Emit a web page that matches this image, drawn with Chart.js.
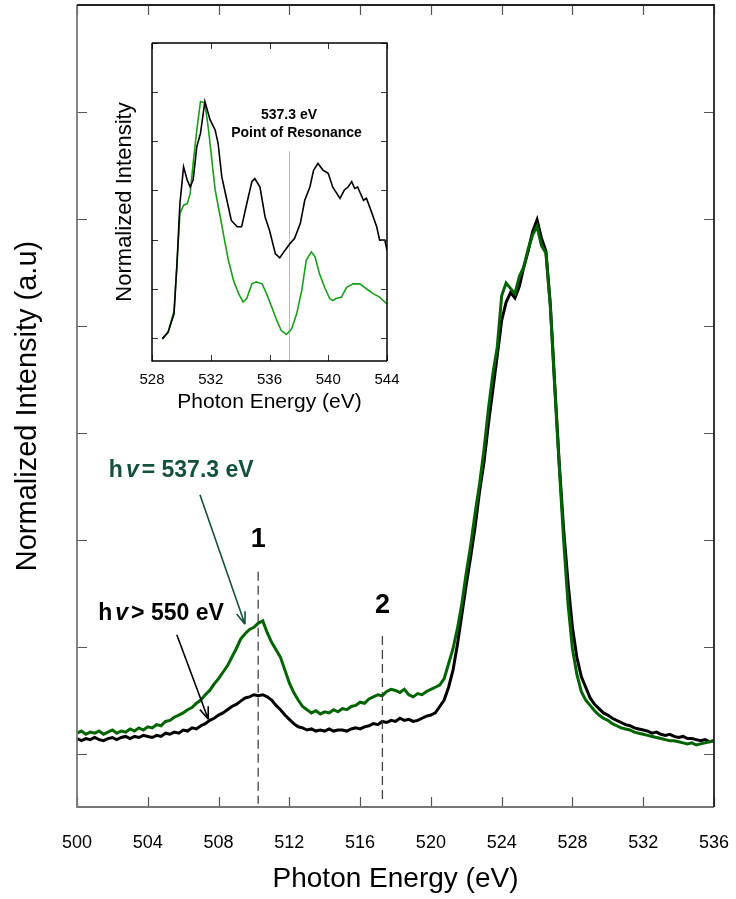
<!DOCTYPE html>
<html>
<head>
<meta charset="utf-8">
<script src="https://cdn.jsdelivr.net/npm/chart.js@4.4.1/dist/chart.umd.min.js"></script>
<style>
  body { margin: 0; background: #fff; }
  #wrap { position: relative; width: 736px; height: 899px; }
  #main { position: absolute; left: 0; top: 0; }
  #inset { position: absolute; left: 100px; top: 30px; }
</style>
</head>
<body>
<div id="wrap">
  <canvas id="main" width="736" height="899"></canvas>
  <canvas id="inset" width="300" height="395"></canvas>
</div>
<script>
const FONT = "'Liberation Sans', Arial, sans-serif";

// main spectra: 500 -> 536 eV, one reading every 0.25 eV
const mainStart = 500;
const mainStep = 0.25;
const blackMain = [
  0.14,0.12,0.14,0.13,0.15,0.13,0.12,0.14,0.15,0.13,
  0.15,0.16,0.14,0.16,0.15,0.17,0.16,0.15,0.17,0.16,
  0.19,0.18,0.20,0.19,0.22,0.21,0.24,0.23,0.26,0.28,
  0.31,0.33,0.36,0.38,0.41,0.44,0.46,0.49,0.52,0.53,
  0.55,0.54,0.55,0.53,0.50,0.45,0.41,0.36,0.32,0.28,
  0.25,0.24,0.22,0.23,0.21,0.22,0.21,0.23,0.21,0.22,
  0.22,0.21,0.23,0.24,0.23,0.25,0.26,0.28,0.27,0.30,
  0.29,0.31,0.30,0.33,0.31,0.32,0.30,0.31,0.33,0.35,
  0.36,0.38,0.44,0.50,0.62,0.78,1.02,1.30,1.58,1.84,
  2.12,2.45,2.72,3.08,3.40,3.72,4.05,4.22,4.31,4.26,
  4.37,4.55,4.70,4.88,4.99,4.82,4.70,4.20,3.45,2.72,
  2.10,1.60,1.18,0.90,0.72,0.62,0.52,0.46,0.42,0.38,
  0.36,0.33,0.31,0.29,0.27,0.26,0.24,0.23,0.22,0.21,
  0.19,0.20,0.18,0.17,0.18,0.16,0.15,0.16,0.14,0.14,
  0.13,0.12,0.13,0.11,0.12
];
const greenMain = [
  0.19,0.21,0.18,0.20,0.19,0.21,0.18,0.20,0.22,0.19,
  0.21,0.20,0.23,0.21,0.24,0.22,0.25,0.24,0.27,0.26,
  0.30,0.31,0.34,0.36,0.38,0.41,0.43,0.47,0.50,0.55,
  0.59,0.65,0.70,0.76,0.82,0.90,0.98,1.07,1.12,1.16,
  1.18,1.22,1.24,1.13,1.04,0.97,0.90,0.78,0.66,0.57,
  0.50,0.44,0.41,0.38,0.40,0.37,0.39,0.38,0.41,0.39,
  0.42,0.41,0.44,0.45,0.48,0.47,0.51,0.53,0.55,0.54,
  0.58,0.60,0.59,0.57,0.60,0.55,0.53,0.56,0.55,0.58,
  0.60,0.62,0.64,0.70,0.84,0.98,1.17,1.40,1.69,1.95,
  2.25,2.52,2.84,3.22,3.55,3.80,4.28,4.40,4.35,4.30,
  4.46,4.55,4.72,4.85,4.93,4.75,4.68,4.18,3.42,2.70,
  2.00,1.40,0.98,0.74,0.58,0.50,0.45,0.40,0.36,0.33,
  0.31,0.28,0.26,0.24,0.23,0.22,0.20,0.19,0.18,0.17,
  0.16,0.15,0.14,0.13,0.12,0.12,0.11,0.10,0.09,0.10,
  0.08,0.09,0.10,0.11,0.12
];
const mainXTicks = [500, 504, 508, 512, 516, 520, 524, 528, 532, 536];
const mainYTicks = [0, 1, 2, 3, 4, 5, 6, 7];

// inset spectra (O K-edge absorption)
const blackInsetE = [528.7,529.1,529.5,529.7,529.9,530.15,530.4,530.6,530.8,531.05,531.3,531.6,531.95,532.3,532.5,532.75,533.1,533.4,533.8,534.1,534.45,534.8,535.0,535.35,535.7,536.0,536.4,536.7,537.05,537.4,537.7,538.1,538.4,538.75,539.0,539.3,539.65,540.0,540.3,540.8,541.1,541.35,541.6,541.8,542.0,542.4,542.6,542.9,543.3,543.5,543.85,544.0];
const blackInsetI = [-0.02,0.12,0.49,1.51,2.73,3.48,3.21,3.07,3.21,3.89,4.16,4.81,4.44,4.23,3.96,3.28,2.80,2.39,2.26,2.26,2.73,3.18,3.24,3.07,2.46,2.19,1.71,1.63,1.78,1.92,2.02,2.33,2.80,3.07,3.41,3.55,3.41,3.35,3.07,2.84,3.01,3.07,3.18,3.04,3.07,2.80,2.84,2.60,2.26,1.99,1.99,1.78];
const greenInsetE = [528.7,529.1,529.5,529.7,529.9,530.15,530.4,530.6,530.8,531.05,531.3,531.6,531.85,532.1,532.3,532.65,532.9,533.2,533.55,533.9,534.2,534.45,534.8,535.1,535.5,535.8,536.15,536.5,536.8,537.15,537.5,537.85,538.2,538.5,538.85,539.1,539.4,539.75,540.1,540.3,540.55,540.9,541.25,541.7,542.15,542.6,543.05,543.5,544.0];
const greenInsetI = [-0.02,0.12,0.55,1.50,2.53,2.70,2.73,2.94,3.55,4.23,4.81,4.78,4.23,3.55,3.01,2.46,2.05,1.58,1.17,0.90,0.73,0.80,1.10,1.14,1.10,0.90,0.63,0.35,0.15,0.07,0.18,0.49,0.97,1.58,1.75,1.65,1.31,1.03,0.80,0.76,0.80,0.83,1.03,1.10,1.10,1.00,0.90,0.83,0.69];
const insetXTicks = [528, 532, 536, 540, 544];
const insetYTicks = [0, 1, 2, 3, 4, 5, 6];
const resonanceE = 537.3;

const mainPoints = vals => vals.map((v, i) => ({ x: mainStart + i * mainStep, y: v }));
const pairPoints = (xs, ys) => xs.map((x, i) => ({ x: x, y: ys[i] }));

// frame with inward ticks on all four sides
const framePlugin = {
  id: 'frame',
  afterDatasetsDraw(chart, args, o) {
    const { ctx, chartArea: a, scales: { x, y } } = chart;
    ctx.save();
    ctx.lineWidth = o.tickWidth;
    ctx.strokeStyle = o.tickColor;
    ctx.beginPath();
    o.xTicks.forEach(v => {
      const px = Math.round(x.getPixelForValue(v)) + 0.5;
      ctx.moveTo(px, a.bottom); ctx.lineTo(px, a.bottom - o.len);
      ctx.moveTo(px, a.top); ctx.lineTo(px, a.top + o.len);
    });
    o.yTicks.forEach(v => {
      const py = Math.round(y.getPixelForValue(v)) + 0.5;
      ctx.moveTo(a.left, py); ctx.lineTo(a.left + o.len, py);
      ctx.moveTo(a.right, py); ctx.lineTo(a.right - o.len, py);
    });
    ctx.stroke();
    ctx.lineWidth = o.borderWidth;
    ctx.strokeStyle = o.leftColor;
    ctx.beginPath();
    ctx.moveTo(a.left, a.top); ctx.lineTo(a.left, a.bottom); ctx.lineTo(a.right, a.bottom);
    ctx.stroke();
    ctx.strokeStyle = o.rightColor;
    ctx.beginPath();
    ctx.moveTo(a.left, a.top); ctx.lineTo(a.right, a.top); ctx.lineTo(a.right, a.bottom);
    ctx.stroke();
    ctx.restore();
  }
};

function arrow(ctx, x1, y1, x2, y2, color) {
  const ang = Math.atan2(y2 - y1, x2 - x1);
  ctx.strokeStyle = color;
  ctx.lineWidth = 1.6;
  ctx.beginPath();
  ctx.moveTo(x1, y1); ctx.lineTo(x2, y2);
  ctx.moveTo(x2, y2); ctx.lineTo(x2 - 13 * Math.cos(ang - 0.35), y2 - 13 * Math.sin(ang - 0.35));
  ctx.moveTo(x2, y2); ctx.lineTo(x2 - 13 * Math.cos(ang + 0.35), y2 - 13 * Math.sin(ang + 0.35));
  ctx.stroke();
}

function hvLabel(ctx, x, y, rest, color) {
  ctx.fillStyle = color;
  ctx.textAlign = 'left';
  ctx.textBaseline = 'middle';
  ctx.font = 'bold 23px ' + FONT;
  ctx.fillText('h', x, y);
  x += ctx.measureText('h').width + 3;
  ctx.font = 'italic bold 23px ' + FONT;
  ctx.fillText('v', x, y);
  x += ctx.measureText('v').width + 3;
  ctx.font = 'bold 23px ' + FONT;
  ctx.fillText(rest, x, y);
}

const mainNotes = {
  id: 'mainNotes',
  afterDatasetsDraw(chart) {
    const { ctx, scales: { x, y } } = chart;
    const X = v => x.getPixelForValue(v), Y = v => y.getPixelForValue(v);
    ctx.save();
    ctx.strokeStyle = '#444';
    ctx.lineWidth = 1.3;
    ctx.setLineDash([9, 5]);
    ctx.beginPath();
    ctx.moveTo(X(510.24), Y(1.70)); ctx.lineTo(X(510.24), Y(-0.47));
    ctx.moveTo(X(517.26), Y(1.10)); ctx.lineTo(X(517.26), Y(-0.47));
    ctx.stroke();
    ctx.setLineDash([]);
    ctx.fillStyle = '#000';
    ctx.font = 'bold 27px ' + FONT;
    ctx.textAlign = 'center';
    ctx.textBaseline = 'middle';
    ctx.fillText('1', X(510.24), Y(2.0));
    ctx.fillText('2', X(517.26), Y(1.38));
    arrow(ctx, X(506.95), Y(2.42), X(509.49), Y(1.21), '#15503f');
    arrow(ctx, X(505.64), Y(1.11), X(507.42), Y(0.32), '#000');
    hvLabel(ctx, X(501.8), Y(2.65), '= 537.3 eV', '#15503f');
    hvLabel(ctx, X(501.2), Y(1.31), '> 550 eV', '#000');
    ctx.restore();
  }
};

const insetNotes = {
  id: 'insetNotes',
  beforeDatasetsDraw(chart) {
    const { ctx, scales: { x, y } } = chart;
    ctx.save();
    ctx.strokeStyle = '#777';
    ctx.lineWidth = 1;
    ctx.setLineDash([1, 1]);
    const px = Math.round(x.getPixelForValue(resonanceE)) + 0.5;
    ctx.beginPath();
    ctx.moveTo(px, y.getPixelForValue(3.79));
    ctx.lineTo(px, y.getPixelForValue(-0.47));
    ctx.stroke();
    ctx.setLineDash([]);
    ctx.fillStyle = '#000';
    ctx.font = 'bold 14px ' + FONT;
    ctx.textAlign = 'center';
    ctx.textBaseline = 'middle';
    ctx.fillText('537.3 eV', x.getPixelForValue(537.33), y.getPixelForValue(4.53));
    ctx.fillText('Point of Resonance', x.getPixelForValue(537.84), y.getPixelForValue(4.17));
    ctx.restore();
  }
};

// stop Chart.js from reserving room for the end tick labels
const fitX = h => s => { s.height = h; s.paddingLeft = 0; s.paddingRight = 0; };

new Chart(document.getElementById('main'), {
  type: 'line',
  data: {
    datasets: [
      { label: 'hv = 537.3 eV', data: mainPoints(greenMain), borderColor: '#006400', borderWidth: 3 },
      { label: 'hv > 550 eV', data: mainPoints(blackMain), borderColor: '#000', borderWidth: 3 }
    ]
  },
  options: {
    responsive: false,
    animation: false,
    devicePixelRatio: 1,
    elements: { point: { radius: 0 }, line: { tension: 0 } },
    layout: { padding: { top: 5, right: 22, left: 0, bottom: 0 } },
    plugins: {
      legend: { display: false },
      tooltip: { enabled: false },
      frame: { xTicks: mainXTicks, yTicks: mainYTicks, len: 10, tickWidth: 1.2, tickColor: '#555',
               borderWidth: 1.8, leftColor: '#777', rightColor: '#222' }
    },
    scales: {
      x: {
        type: 'linear', min: 500, max: 536,
        afterBuildTicks: s => { s.ticks = mainXTicks.map(v => ({ value: v })); },
        afterFit: fitX(92),
        grid: { display: false }, border: { display: false },
        ticks: { color: '#000', padding: 17, font: { family: FONT, size: 18 } },
        title: { display: true, text: 'Photon Energy (eV)', color: '#000',
                 font: { family: FONT, size: 28 }, padding: { top: 0, bottom: 3 } }
      },
      y: {
        min: -0.5, max: 7,
        afterBuildTicks: s => { s.ticks = mainYTicks.map(v => ({ value: v })); },
        afterFit: s => { s.width = 77; s.paddingTop = 0; s.paddingBottom = 0; },
        grid: { display: false }, border: { display: false },
        ticks: { display: false },
        title: { display: true, text: 'Normalized Intensity (a.u)', color: '#000',
                 font: { family: FONT, size: 29 }, padding: { top: 11, bottom: 0 } }
      }
    }
  },
  plugins: [framePlugin, mainNotes]
});

new Chart(document.getElementById('inset'), {
  type: 'line',
  data: {
    datasets: [
      { label: 'black', data: pairPoints(blackInsetE, blackInsetI), borderColor: '#000', borderWidth: 1.6 },
      { label: 'green', data: pairPoints(greenInsetE, greenInsetI), borderColor: '#1a9e1a', borderWidth: 1.6 }
    ]
  },
  options: {
    responsive: false,
    animation: false,
    devicePixelRatio: 1,
    elements: { point: { radius: 0 }, line: { tension: 0 } },
    layout: { padding: { top: 13, right: 13, left: 0, bottom: 0 } },
    plugins: {
      legend: { display: false },
      tooltip: { enabled: false },
      frame: { xTicks: insetXTicks, yTicks: insetYTicks, len: 6, tickWidth: 1, tickColor: '#333',
               borderWidth: 1.5, leftColor: '#000', rightColor: '#000' }
    },
    scales: {
      x: {
        type: 'linear', min: 528, max: 544,
        afterBuildTicks: s => { s.ticks = insetXTicks.map(v => ({ value: v })); },
        afterFit: fitX(64),
        grid: { display: false }, border: { display: false },
        ticks: { color: '#000', padding: 2, font: { family: FONT, size: 15 } },
        title: { display: true, text: 'Photon Energy (eV)', color: '#000',
                 font: { family: FONT, size: 21 }, padding: { top: 0, bottom: 10 } }
      },
      y: {
        min: -0.47, max: 6,
        afterBuildTicks: s => { s.ticks = insetYTicks.map(v => ({ value: v })); },
        afterFit: s => { s.width = 52; s.paddingTop = 0; s.paddingBottom = 0; },
        grid: { display: false }, border: { display: false },
        ticks: { display: false },
        title: { display: true, text: 'Normalized Intensity', color: '#000',
                 font: { family: FONT, size: 22 }, padding: { top: 12, bottom: 0 } }
      }
    }
  },
  plugins: [framePlugin, insetNotes]
});
</script>
</body>
</html>
